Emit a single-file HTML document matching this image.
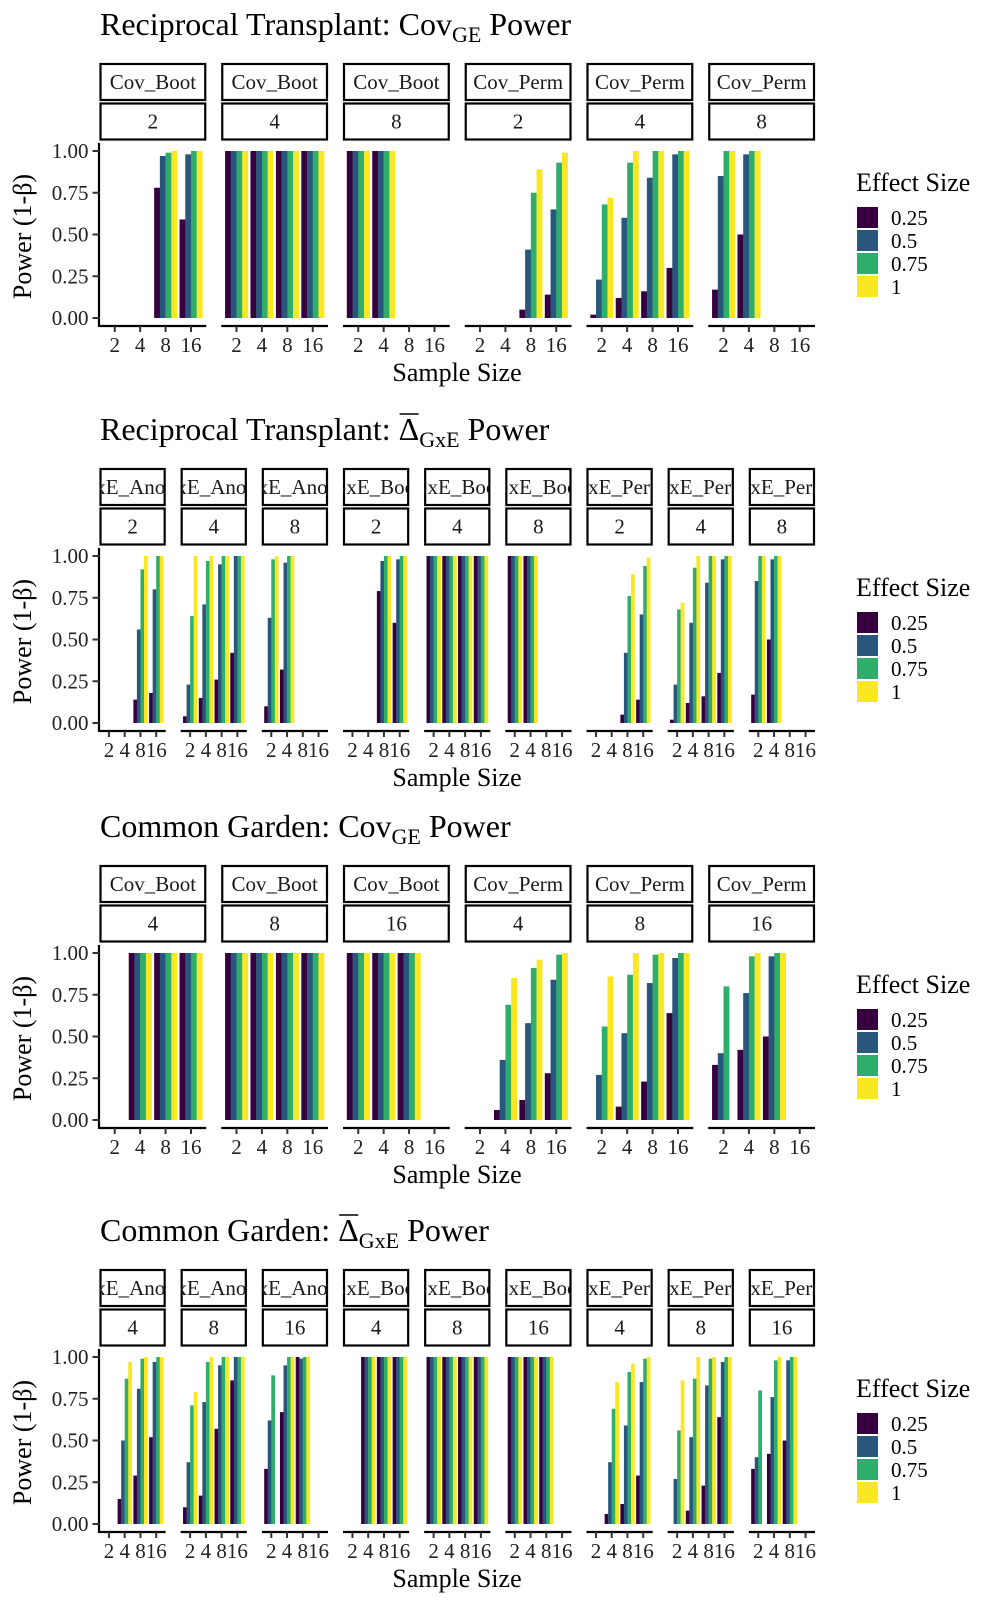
<!DOCTYPE html>
<html><head><meta charset="utf-8">
<style>
html,body{margin:0;padding:0;background:#fff;}
svg{display:block;font-family:"Liberation Serif",serif;}
</style></head>
<body>
<svg id="chart" width="1000" height="1600" viewBox="0 0 1000 1600" xmlns="http://www.w3.org/2000/svg">
<defs id="defs"></defs>
</svg>
<script>
const categories = [2, 4, 8, 16];
const effectSizes = ['0.25', '0.5', '0.75', '1'];
const yTicks = [0, 0.25, 0.5, 0.75, 1];
const yTickLabels = ['0.00', '0.25', '0.50', '0.75', '1.00'];
const colors = ['#36003f', '#28567c', '#2fae6b', '#fae622'];

const s1Methods = ['Cov_Boot','Cov_Boot','Cov_Boot','Cov_Perm','Cov_Perm','Cov_Perm'];
const s1Sizes = ['2','4','8','2','4','8'];
const s1Values = [
  [null,null,[0.78,0.97,0.99,1],[0.59,0.98,1,1]],
  [[1,1,1,1],[1,1,1,1],[1,1,1,1],[1,1,1,1]],
  [[1,1,1,1],[1,1,1,1],null,null],
  [null,null,[0.05,0.41,0.75,0.89],[0.14,0.65,0.93,0.99]],
  [[0.02,0.23,0.68,0.72],[0.12,0.60,0.93,1],[0.16,0.84,1,1],[0.30,0.98,1,1]],
  [[0.17,0.85,1,1],[0.50,0.98,1,1],null,null]
];

const s2Methods = ['GxE_Anova','GxE_Anova','GxE_Anova','GxE_Boot','GxE_Boot','GxE_Boot','GxE_Perm','GxE_Perm','GxE_Perm'];
const s2Sizes = ['2','4','8','2','4','8','2','4','8'];
const s2Values = [
  [null,null,[0.14,0.56,0.92,1],[0.18,0.80,1,1]],
  [[0.04,0.23,0.64,1],[0.15,0.71,0.97,1],[0.26,0.95,1,1],[0.42,1,1,1]],
  [[0.10,0.63,0.98,1],[0.32,0.96,1,1],null,null],
  [null,null,[0.79,0.97,1,1],[0.60,0.98,1,1]],
  [[1,1,1,1],[1,1,1,1],[1,1,1,1],[1,1,1,1]],
  [[1,1,1,1],[1,1,1,1],null,null],
  [null,null,[0.05,0.42,0.76,0.89],[0.14,0.65,0.94,0.99]],
  [[0.02,0.23,0.68,0.72],[0.12,0.60,0.93,1],[0.16,0.84,1,1],[0.30,0.98,1,1]],
  [[0.17,0.85,1,1],[0.50,0.98,1,1],null,null]
];

const s3Methods = ['Cov_Boot','Cov_Boot','Cov_Boot','Cov_Perm','Cov_Perm','Cov_Perm'];
const s3Sizes = ['4','8','16','4','8','16'];
const s3Values = [
  [null,[1,1,1,1],[1,1,1,1],[1,1,1,1]],
  [[1,1,1,1],[1,1,1,1],[1,1,1,1],[1,1,1,1]],
  [[1,1,1,1],[1,1,1,1],[1,1,1,1],null],
  [null,[0.06,0.36,0.69,0.85],[0.12,0.58,0.91,0.96],[0.28,0.84,0.99,1]],
  [[0,0.27,0.56,0.86],[0.08,0.52,0.87,1],[0.23,0.82,0.99,1],[0.64,0.97,1,1]],
  [[0.33,0.40,0.80,0],[0.42,0.76,0.98,1],[0.50,0.98,1,1],null]
];

const s4Methods = ['GxE_Anova','GxE_Anova','GxE_Anova','GxE_Boot','GxE_Boot','GxE_Boot','GxE_Perm','GxE_Perm','GxE_Perm'];
const s4Sizes = ['4','8','16','4','8','16','4','8','16'];
const s4Values = [
  [null,[0.15,0.50,0.87,0.97],[0.29,0.81,0.99,1],[0.52,0.97,1,1]],
  [[0.10,0.37,0.71,0.79],[0.17,0.73,0.97,1],[0.57,0.95,1,1],[0.86,1,1,1]],
  [[0.33,0.62,0.89,0],[0.67,0.95,1,1],[1,0.99,1,1],null],
  [null,[1,1,1,1],[1,1,1,1],[1,1,1,1]],
  [[1,1,1,1],[1,1,1,1],[1,1,1,1],[1,1,1,1]],
  [[1,1,1,1],[1,1,1,1],[1,1,1,1],null],
  [null,[0.06,0.37,0.69,0.85],[0.12,0.59,0.91,0.96],[0.29,0.85,0.99,1]],
  [[0,0.27,0.56,0.86],[0.08,0.52,0.87,1],[0.23,0.83,0.99,1],[0.64,0.97,1,1]],
  [[0.33,0.40,0.80,0],[0.42,0.76,0.98,1],[0.50,0.98,1,1],null]
];

const NS = 'http://www.w3.org/2000/svg';
const svg = document.getElementById('chart');
const defs = document.getElementById('defs');
let clipId = 0;

function mk(tag, attrs, parent) {
  const e = document.createElementNS(NS, tag);
  for (const k in attrs) e.setAttribute(k, attrs[k]);
  (parent || svg).appendChild(e);
  return e;
}

function drawTitle(g, y, prefix, sub, isDelta) {
  const t = mk('text', {x: 100, y: y, 'font-size': 32, fill: '#000'}, g);
  
  
  const a = mk('tspan', {}, t); a.textContent = prefix;
  const d = mk('tspan', {}, t); d.textContent = isDelta ? 'Δ' : 'Cov';
  const s = mk('tspan', {'font-size': 22, dy: 7}, t); s.textContent = sub;
  const p = mk('tspan', {dy: -7}, t); p.textContent = ' Power';
  if (isDelta) {
    const len = a.getComputedTextLength();
    const ol = mk('line', {x1: 100 + len + 1, x2: 100 + len + 20, y1: y - 26, y2: y - 26, stroke: '#000', 'stroke-width': 1.5}, g);
    
    
  }
}

function drawSection(dy, methods, sizes, values, titlePrefix, titleSub, isDelta) {
  const g = mk('g', {});
  
  
  drawTitle(g, 35 + dy, titlePrefix, titleSub, isDelta);

  const n = methods.length;
  const gap = 15;
  const left = 99.5, right = 815;
  const pw = (right - left - gap * (n - 1)) / n;
  const yTop = 151 + dy, yBot = 318 + dy;
  const axisY = 326 + dy;
  const yScale = v => yBot - v * (yBot - yTop);

  for (let p = 0; p < n; p++) {
    const x0 = left + p * (pw + gap);
    const step = pw / (categories.length - 1 + 1.2);
    const xScale = i => x0 + step * (0.6 + i);

    const rows = [[methods[p], 63 + dy], [sizes[p], 102.5 + dy]];
    rows.forEach((r, ri) => {
      const id = 'clip' + (clipId++);
      const cp = mk('clipPath', {id: id}, defs);
      mk('rect', {x: x0, y: r[1], width: pw, height: 37.5}, cp);
      const box = mk('rect', {x: x0 + 1, y: r[1] + 1, width: pw - 2, height: 36, fill: '#fff', stroke: '#000', 'stroke-width': 2.2}, g);
      
      
      const tx = mk('text', {x: x0 + pw / 2, y: r[1] + 26, 'font-size': 21, 'text-anchor': 'middle', 'clip-path': 'url(#' + id + ')', fill: '#1a1a1a'}, g);
      
      
      tx.textContent = r[0];
    });

    const gw = step * 0.9, bw = gw / effectSizes.length;
    values[p].forEach((grp, ci) => {
      if (!grp) return;
      grp.forEach((v, ei) => {
        if (!v) return;
        const bx = xScale(ci) - gw / 2 + ei * bw;
        const b = mk('rect', {x: bx, y: yScale(v), width: bw + 0.2, height: yBot - yScale(v), fill: colors[ei]}, g);
        
        
      });
    });

    const xa = mk('line', {x1: x0, x2: x0 + pw, y1: axisY, y2: axisY, stroke: '#000', 'stroke-width': 2.2}, g);
    
    
    categories.forEach((c, ci) => {
      const tk = mk('line', {x1: xScale(ci), x2: xScale(ci), y1: axisY, y2: axisY + 6, stroke: '#333', 'stroke-width': 2}, g);
      
      
      const tl = mk('text', {x: xScale(ci), y: axisY + 26, 'font-size': 21, 'text-anchor': 'middle', fill: '#222'}, g);
      
      
      tl.textContent = c;
    });

    if (p === 0) {
      const ya = mk('line', {x1: x0 - 0.5, x2: x0 - 0.5, y1: 143 + dy, y2: axisY + 1, stroke: '#000', 'stroke-width': 2.2}, g);
      
      
      yTicks.forEach((v, i) => {
        const tk = mk('line', {x1: x0 - 7, x2: x0, y1: yScale(v), y2: yScale(v), stroke: '#333', 'stroke-width': 2}, g);
        
        
        const tl = mk('text', {x: x0 - 11, y: yScale(v) + 7, 'font-size': 21, 'text-anchor': 'end', fill: '#222'}, g);
        
        
        tl.textContent = yTickLabels[i];
      });
    }
  }

  const xt = mk('text', {x: 457, y: 381 + dy, 'font-size': 26, 'text-anchor': 'middle'}, g);
  
  
  xt.textContent = 'Sample Size';
  const cy = (yTop + yBot) / 2 + 2;
  const yt = mk('text', {x: 0, y: 0, 'font-size': 26, 'text-anchor': 'middle', transform: 'translate(31,' + cy + ') rotate(-90)'}, g);
  
  
  yt.textContent = 'Power (1-β)';

  const lt = mk('text', {x: 856, y: 191 + dy, 'font-size': 26}, g);
  
  
  lt.textContent = 'Effect Size';
  effectSizes.forEach((es, i) => {
    const ky = 207 + dy + i * 23;
    const k = mk('rect', {x: 857, y: ky, width: 21, height: 21, fill: colors[i]}, g);
    
    
    const kl = mk('text', {x: 891, y: ky + 18, 'font-size': 21}, g);
    
    
    kl.textContent = es;
  });
}

drawSection(0, s1Methods, s1Sizes, s1Values, 'Reciprocal Transplant: ', 'GE', false);
drawSection(405, s2Methods, s2Sizes, s2Values, 'Reciprocal Transplant: ', 'GxE', true);
drawSection(802, s3Methods, s3Sizes, s3Values, 'Common Garden: ', 'GE', false);
drawSection(1206, s4Methods, s4Sizes, s4Values, 'Common Garden: ', 'GxE', true);
</script>
</body></html>
